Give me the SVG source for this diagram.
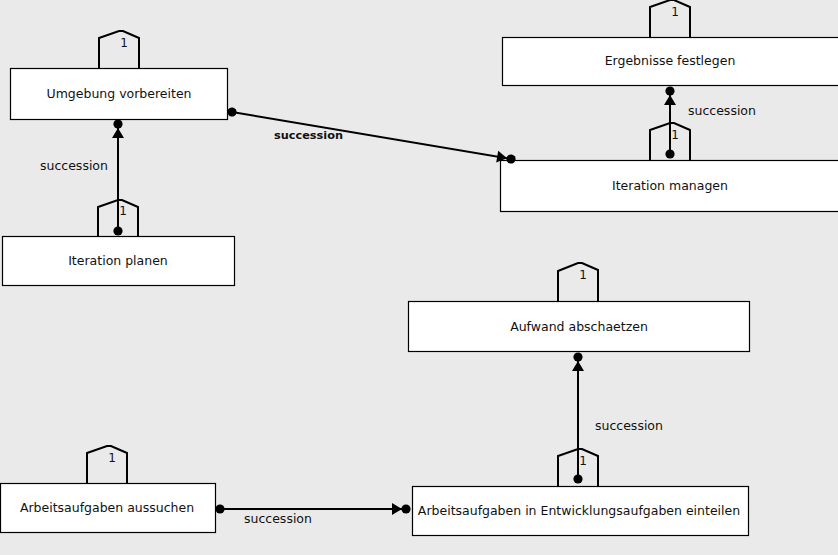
<svg xmlns="http://www.w3.org/2000/svg" width="838" height="555" viewBox="0 0 838 555">
<style>
.box{fill:#fff;stroke:#000;stroke-width:1.2}
.tab{fill:none;stroke:#000;stroke-width:2}
.t{font-family:"DejaVu Sans",sans-serif;font-size:12.5px;fill:#111;text-anchor:middle}
.one{font-family:"DejaVu Sans",sans-serif;font-size:12px;fill:#111;text-anchor:middle}
.lbl{font-family:"DejaVu Sans",sans-serif;font-size:12.5px;fill:#111;text-anchor:start}
.lblb{font-family:"DejaVu Sans",sans-serif;font-size:11.3px;font-weight:bold;fill:#111;text-anchor:start}
.c{fill:none;stroke:#000;stroke-width:2;marker-start:url(#dot);marker-end:url(#arrdot)}
</style>
<defs>
<marker id="dot" markerUnits="userSpaceOnUse" viewBox="-6 -6 12 12" markerWidth="12" markerHeight="12" refX="0" refY="0" orient="auto">
<circle cx="0" cy="0" r="4.6" fill="#000"/>
</marker>
<marker id="arrdot" markerUnits="userSpaceOnUse" viewBox="-18 -8 24 16" markerWidth="24" markerHeight="16" refX="0" refY="0" orient="auto">
<path d="M-14,-6 L-4,0 L-14,6 Z" fill="#000"/>
<circle cx="0" cy="0" r="4.6" fill="#000"/>
</marker>
</defs>
<rect width="838" height="555" fill="#eaeaea"/>

<g id="umgebung">
<rect class="box" x="10.5" y="68.5" width="217" height="51"/>
<path class="tab" d="M99,68 V38 L119,31 H123 L139,38 V68"/>
<text class="one" x="124" y="47">1</text>
<text class="t" x="119" y="98">Umgebung vorbereiten</text>
</g>

<g id="iteration-planen">
<rect class="box" x="2.5" y="236.5" width="232" height="49"/>
<path class="tab" d="M98,236 V207 L118,200 H122 L138,207 V236"/>
<text class="one" x="123" y="215">1</text>
<text class="t" x="118" y="265">Iteration planen</text>
</g>

<g id="ergebnisse">
<rect class="box" x="502.5" y="37.5" width="337" height="48"/>
<path class="tab" d="M650,37 V7 L670,0 H674 L690,7 V37"/>
<text class="one" x="675" y="16">1</text>
<text class="t" x="670" y="65">Ergebnisse festlegen</text>
</g>

<g id="iteration-managen">
<rect class="box" x="500.5" y="160.5" width="340" height="51"/>
<path class="tab" d="M650,160 V130 L670,123 H674 L690,130 V160"/>
<text class="one" x="675" y="139">1</text>
<text class="t" x="670" y="190">Iteration managen</text>
</g>

<g id="aufwand">
<rect class="box" x="408.5" y="301.5" width="341" height="50"/>
<path class="tab" d="M558,301 V271 L578,263 H582 L598,270 V301"/>
<text class="one" x="583" y="279">1</text>
<text class="t" x="579" y="331">Aufwand abschaetzen</text>
</g>

<g id="einteilen">
<rect class="box" x="412.5" y="486.5" width="336" height="49"/>
<path class="tab" d="M558,486 V456 L578,449 H582 L598,456 V486"/>
<text class="one" x="583" y="465">1</text>
<text class="t" x="579" y="515">Arbeitsaufgaben in Entwicklungsaufgaben einteilen</text>
</g>

<g id="aussuchen">
<rect class="box" x="0.5" y="483.5" width="215" height="49"/>
<path class="tab" d="M87,483 V453 L107,446 H111 L127,453 V483"/>
<text class="one" x="112" y="462">1</text>
<text class="t" x="107" y="512">Arbeitsaufgaben aussuchen</text>
</g>

<g id="connectors">
<line class="c" x1="118" y1="231" x2="118" y2="124"/>
<text class="lbl" x="40" y="170">succession</text>
<line class="c" x1="232" y1="112" x2="511" y2="159"/>
<text class="lblb" x="274" y="139">succession</text>
<line class="c" x1="670" y1="154" x2="670" y2="91"/>
<text class="lbl" x="688" y="115">succession</text>
<line class="c" x1="578" y1="479" x2="578" y2="357"/>
<text class="lbl" x="595" y="430">succession</text>
<line class="c" x1="220" y1="509" x2="406" y2="509"/>
<text class="lbl" x="244" y="523">succession</text>
</g>
</svg>
